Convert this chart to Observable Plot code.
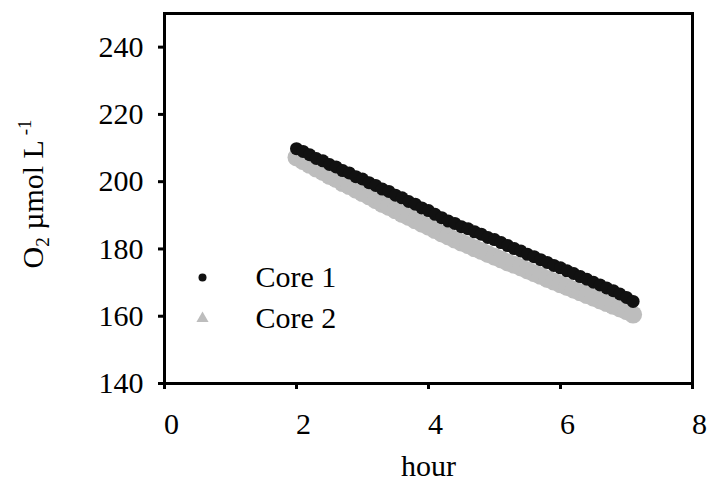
<!DOCTYPE html>
<html><head><meta charset="utf-8">
<script src="https://cdn.jsdelivr.net/npm/d3@7"></script>
<script src="https://cdn.jsdelivr.net/npm/@observablehq/plot@0.6"></script>
<style>body{margin:0;background:#fff}</style>
</head><body><div id="chart"></div>
<script>
const hours = [2.0,2.1,2.2,2.3,2.4,2.5,2.6,2.7,2.8,2.9,3.0,3.1,3.2,3.3,3.4,3.5,3.6,3.7,3.8,3.9,4.0,4.1,4.2,4.3,4.4,4.5,4.6,4.7,4.8,4.9,5.0,5.1,5.2,5.3,5.4,5.5,5.6,5.7,5.8,5.9,6.0,6.1,6.2,6.3,6.4,6.5,6.6,6.7,6.8,6.9,7.0,7.1];
const core1 = [209.8,209.0,208.0,206.9,206.2,205.1,204.4,203.3,202.6,201.5,200.8,199.7,198.9,197.8,197.1,196.0,195.2,194.1,193.3,192.2,191.4,190.3,189.3,188.3,187.6,186.6,186.0,185.1,184.4,183.4,182.8,181.9,181.0,180.1,179.4,178.4,177.7,176.8,176.0,175.1,174.4,173.5,172.7,171.8,171.0,170.1,169.3,168.4,167.6,166.6,165.6,164.4];
const core2 = [207.2,206.1,205.0,203.9,202.9,201.7,200.8,199.6,198.7,197.6,196.6,195.6,194.5,193.4,192.5,191.5,190.4,189.5,188.5,187.5,186.6,185.6,184.6,183.7,182.8,181.9,181.1,180.2,179.4,178.5,177.7,176.9,176.0,175.3,174.5,173.6,172.8,172.0,171.1,170.3,169.5,168.7,167.9,167.1,166.3,165.5,164.7,163.9,163.1,162.3,161.5,160.5];
const seriesNames = ["Core 1", "Core 2"];
const seriesColors = ["#111111", "#bdbdbd"];
const xTicks = [0, 2, 4, 6, 8];
const yTicks = [140, 160, 180, 200, 220, 240];
const xLabel = "hour";

const font = '"Liberation Serif","Times New Roman",serif';
const rows1 = hours.map((h, i) => ({h, v: core1[i]}));
const rows2 = hours.map((h, i) => ({h, v: core2[i]}));

const plot = Plot.plot({
  width: 721, height: 481,
  marginLeft: 164, marginRight: 29, marginTop: 13, marginBottom: 98,
  style: {fontFamily: font, fontSize: "30px", color: "#000", background: "#fff"},
  x: {domain: [0, 8], label: null},
  y: {domain: [140, 250], label: null},
  marks: [
    Plot.dot(rows2, {x: "h", y: "v", symbol: "circle", r: 9, fill: seriesColors[1], stroke: "none"}),
    Plot.dot(rows1, {x: "h", y: "v", r: 6.5, fill: seriesColors[0], stroke: "none"}),
    Plot.axisX({ticks: xTicks, tickSize: 6, strokeWidth: 3, text: null, label: null}),
    Plot.axisX({ticks: xTicks, tickSize: 0, tickPadding: 29, dx: 7, label: null, tickFormat: d => d}),
    Plot.axisY({ticks: yTicks, tickSize: 6, strokeWidth: 3, tickPadding: 15, label: null}),
    Plot.frame({stroke: "#000", strokeWidth: 3}),
    Plot.text([xLabel], {frameAnchor: "bottom", lineAnchor: "middle", dy: 83, fontSize: 30, fill: "#000"}),
    Plot.dot([seriesNames[0]], {frameAnchor: "top-left", dx: 38, dy: 264, r: 4, fill: seriesColors[0]}),
    Plot.dot([seriesNames[1]], {frameAnchor: "top-left", dx: 38, dy: 305, r: 4.5, symbol: "triangle", fill: seriesColors[1]}),
    Plot.text([seriesNames[0]], {text: d => d, frameAnchor: "top-left", lineAnchor: "middle", dx: 91, dy: 264, textAnchor: "start", fontSize: 30, fill: "#000"}),
    Plot.text([seriesNames[1]], {text: d => d, frameAnchor: "top-left", lineAnchor: "middle", dx: 91, dy: 305, textAnchor: "start", fontSize: 30, fill: "#000"})
  ]
});
document.getElementById("chart").appendChild(plot);

const svg = d3.select(plot);
const lab = svg.append("text")
  .attr("transform", "translate(43,194) rotate(-90)")
  .attr("text-anchor", "middle")
  .attr("font-family", font)
  .attr("font-size", 30)
  .attr("fill", "#000");
lab.append("tspan").text("O");
lab.append("tspan").attr("font-size", 19).attr("dy", 6).text("2");
lab.append("tspan").attr("dy", -6).text(" \u00B5mol L");
lab.append("tspan").attr("font-size", 19).attr("dy", -12).text(" -1");
</script>
</body></html>
